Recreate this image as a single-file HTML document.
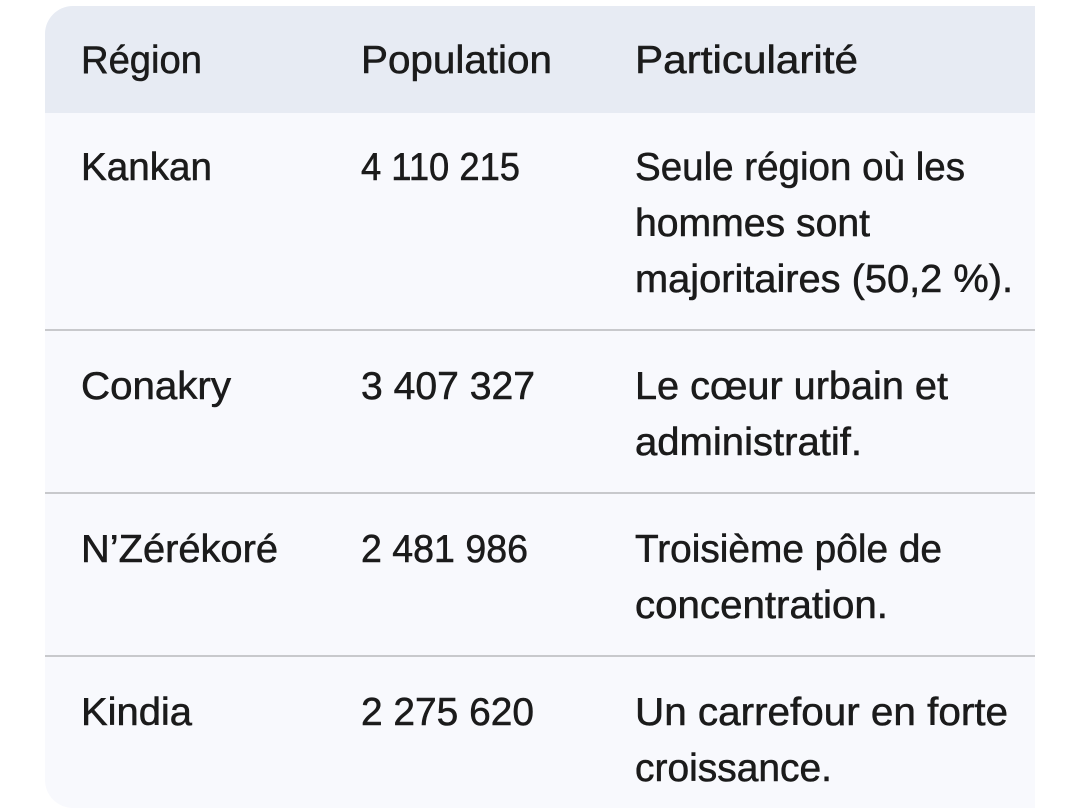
<!DOCTYPE html>
<html>
<head>
<meta charset="utf-8">
<style>
html,body{margin:0;padding:0;background:#ffffff;}
body{width:1080px;height:810px;overflow:hidden;}
svg{display:block;}
text{font-family:"Liberation Sans",Arial,sans-serif;font-size:39px;fill:#1b1b1b;stroke:#1b1b1b;stroke-width:0.55px;}
</style>
</head>
<body>
<svg width="1080" height="810" viewBox="0 0 1080 810" xmlns="http://www.w3.org/2000/svg">
  <defs>
    <clipPath id="card">
      <path d="M73,6 H1035 V808 H73 A28,28 0 0 1 45,780 V34 A28,28 0 0 1 73,6 Z"/>
    </clipPath>
  </defs>
  <g clip-path="url(#card)">
    <rect x="45" y="6" width="990" height="802" fill="#f8f9fd"/>
    <rect x="45" y="6" width="990" height="107" fill="#e7ebf3"/>
    <rect x="45" y="329" width="990" height="2" fill="#c8c9cc"/>
    <rect x="45" y="492" width="990" height="2" fill="#c8c9cc"/>
    <rect x="45" y="655" width="990" height="2" fill="#c8c9cc"/>
  </g>

  <!-- Header -->
  <text x="81" y="73" textLength="121" lengthAdjust="spacingAndGlyphs">Région</text>
  <text x="361" y="73" textLength="191" lengthAdjust="spacingAndGlyphs">Population</text>
  <text x="635" y="73" textLength="223" lengthAdjust="spacingAndGlyphs">Particularité</text>

  <!-- Row 1 -->
  <text x="81" y="180" textLength="131" lengthAdjust="spacingAndGlyphs">Kankan</text>
  <text x="361" y="180" textLength="159" lengthAdjust="spacingAndGlyphs">4 110 215</text>
  <text x="635" y="180" textLength="330" lengthAdjust="spacingAndGlyphs">Seule région où les</text>
  <text x="635" y="236" textLength="235" lengthAdjust="spacingAndGlyphs">hommes sont</text>
  <text x="635" y="292" textLength="378" lengthAdjust="spacingAndGlyphs">majoritaires (50,2 %).</text>

  <!-- Row 2 -->
  <text x="81" y="399" textLength="150" lengthAdjust="spacingAndGlyphs">Conakry</text>
  <text x="361" y="399" textLength="174" lengthAdjust="spacingAndGlyphs">3 407 327</text>
  <text x="635" y="399" textLength="313" lengthAdjust="spacingAndGlyphs">Le cœur urbain et</text>
  <text x="635" y="455" textLength="227" lengthAdjust="spacingAndGlyphs">administratif.</text>

  <!-- Row 3 -->
  <text x="81" y="562" textLength="197" lengthAdjust="spacingAndGlyphs">N’Zérékoré</text>
  <text x="361" y="562" textLength="167" lengthAdjust="spacingAndGlyphs">2 481 986</text>
  <text x="635" y="562" textLength="307" lengthAdjust="spacingAndGlyphs">Troisième pôle de</text>
  <text x="635" y="618" textLength="253" lengthAdjust="spacingAndGlyphs">concentration.</text>

  <!-- Row 4 -->
  <text x="81" y="725" textLength="111" lengthAdjust="spacingAndGlyphs">Kindia</text>
  <text x="361" y="725" textLength="173" lengthAdjust="spacingAndGlyphs">2 275 620</text>
  <text x="635" y="725" textLength="373" lengthAdjust="spacingAndGlyphs">Un carrefour en forte</text>
  <text x="635" y="781" textLength="197" lengthAdjust="spacingAndGlyphs">croissance.</text>
</svg>
</body>
</html>
